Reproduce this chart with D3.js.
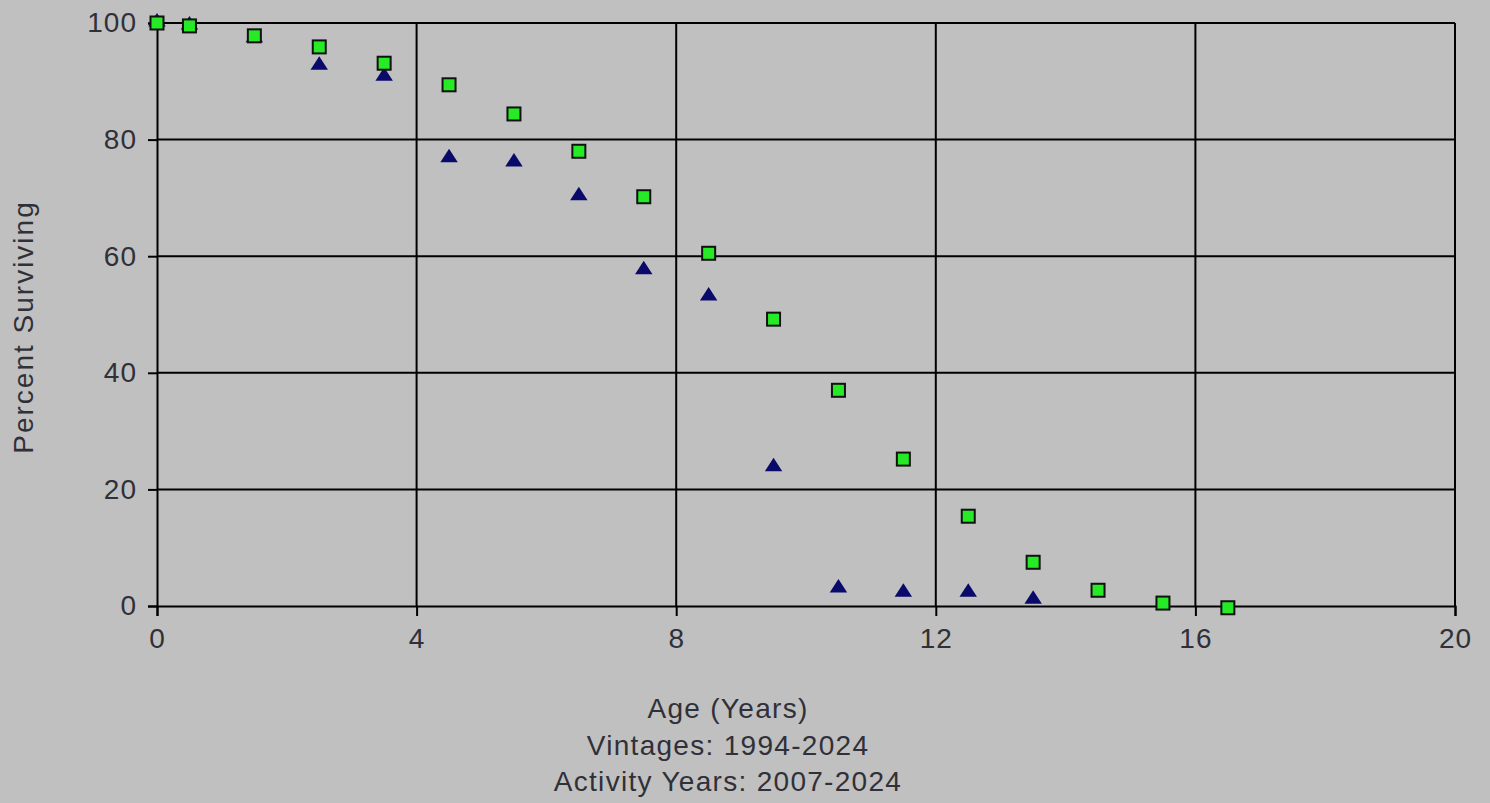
<!DOCTYPE html>
<html><head><meta charset="utf-8">
<script src="https://cdn.jsdelivr.net/npm/d3@7"></script>
<style>
html,body{margin:0;padding:0;background:#c0c0c0;}
svg{display:block;}
text{font-family:"Liberation Sans",Arial,sans-serif;fill:#303038;}
</style></head>
<body>
<script>
// Data
const ages = [0, 0.5, 1.5, 2.5, 3.5, 4.5, 5.5, 6.5, 7.5, 8.5, 9.5, 10.5, 11.5, 12.5, 13.5, 14.5, 15.5, 16.5];
const squareSeries = [100, 99.5, 97.8, 95.9, 93.1, 89.4, 84.4, 78.0, 70.2, 60.5, 49.2, 37.0, 25.2, 15.4, 7.5, 2.7, 0.5, -0.3];
const triangleAges = [0, 0.5, 1.5, 2.5, 3.5, 4.5, 5.5, 6.5, 7.5, 8.5, 9.5, 10.5, 11.5, 12.5, 13.5];
const triangleSeries = [100, 99.5, 97.3, 92.6, 90.7, 76.7, 76.0, 70.2, 57.5, 53.0, 23.7, 2.9, 2.2, 2.2, 1.0];
const xTicks = [0, 4, 8, 12, 16, 20];
const yTicks = [0, 20, 40, 60, 80, 100];
const xTitle = "Age (Years)";
const subtitles = ["Vintages: 1994-2024", "Activity Years: 2007-2024"];
const yTitle = "Percent Surviving";

const W = 1490, H = 803;
const svg = d3.select("body").append("svg").attr("width", W).attr("height", H);
svg.append("rect").attr("width", W).attr("height", H).attr("fill", "#c0c0c0");

const x = d3.scaleLinear().domain([0, 20]).range([157, 1455]);
const y = d3.scaleLinear().domain([0, 100]).range([606, 23]);

// Grid
const grid = svg.append("g").attr("stroke", "#000").attr("stroke-width", 2);
grid.selectAll("line.v").data(xTicks.filter(d => d > 0)).join("line")
  .attr("x1", d => x(d)).attr("x2", d => x(d)).attr("y1", y(0)).attr("y2", y(100));
grid.selectAll("line.h").data(yTicks.filter(d => d > 0)).join("line")
  .attr("class", "h")
  .attr("x1", x(0)).attr("x2", x(20)).attr("y1", d => y(d)).attr("y2", d => y(d));

// Axes
const fontSize = 28;
const xAxis = svg.append("g").attr("transform", `translate(0,${y(0)})`)
  .call(d3.axisBottom(x).tickValues(xTicks).tickFormat(d3.format("d")).tickSize(10).tickPadding(12));
const yAxis = svg.append("g").attr("transform", `translate(${x(0)},0)`)
  .call(d3.axisLeft(y).tickValues(yTicks).tickFormat(d3.format("d")).tickSize(9).tickPadding(11));
[xAxis, yAxis].forEach(a => {
  a.select(".domain").attr("stroke", "#000").attr("stroke-width", 2);
  a.selectAll(".tick line").attr("stroke", "#000").attr("stroke-width", 2);
  a.selectAll(".tick text").attr("font-size", fontSize).attr("fill", "#303038")
    .attr("font-family", "Liberation Sans, Arial, sans-serif").attr("letter-spacing", "1px");
});

// Triangles (drawn first, under squares)
const tri = d3.symbol().type(d3.symbolTriangle).size(105);
svg.append("g").selectAll("path").data(triangleAges.map((a, i) => [a, triangleSeries[i]])).join("path")
  .attr("d", tri)
  .attr("transform", d => `translate(${x(d[0])},${y(d[1]) - 1}) scale(1.12,1)`)
  .attr("fill", "#0a0a6a");

// Squares
const s = 13;
svg.append("g").selectAll("rect").data(ages.map((a, i) => [a, squareSeries[i]])).join("rect")
  .attr("x", d => x(d[0]) - s / 2).attr("y", d => y(d[1]) - s / 2)
  .attr("width", s).attr("height", s)
  .attr("fill", "#26ea26").attr("stroke", "#111").attr("stroke-width", 2);

// Titles
const tg = svg.append("g").attr("text-anchor", "middle").attr("font-size", fontSize).attr("letter-spacing", "1.3px");
[xTitle, ...subtitles].forEach((t, i) => {
  tg.append("text").attr("x", 728).attr("y", 718 + i * 36.5).text(t);
});
svg.append("text").attr("transform", "translate(33,327) rotate(-90)")
  .attr("text-anchor", "middle").attr("font-size", fontSize).attr("letter-spacing", "2px").text(yTitle);
</script>
</body></html>
